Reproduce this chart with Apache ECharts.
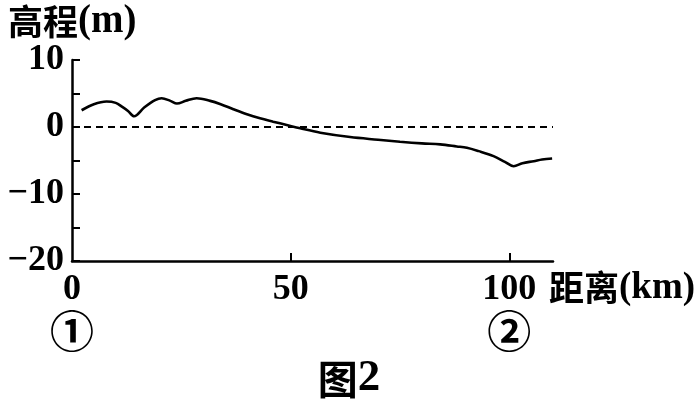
<!DOCTYPE html>
<html>
<head>
<meta charset="utf-8">
<script src="https://cdn.jsdelivr.net/npm/echarts@6/dist/echarts.min.js"></script>
<style>
html,body{margin:0;padding:0;background:#fff;}
#c{width:698px;height:403px;}
</style>
</head>
<body>
<div id="c"></div>
<script>
// distance (km) along the profile
const distance = [2.2,5,7.9,10,11.5,12.8,14.2,16.5,19,20.5,22.5,24,26,28.5,31.6,34,36.9,40,43,46,49.1,52.2,56.8,63.6,70,75,80,84.2,88,90.3,93,96.4,99,101,103,105.6,107.5,109.8];
// elevation (m)
const elevation = [2.5,3.4,3.8,3.6,3.0,2.4,1.6,2.9,4.0,4.3,3.9,3.5,3.9,4.3,3.9,3.4,2.65,1.9,1.3,0.8,0.3,-0.2,-0.85,-1.5,-1.9,-2.2,-2.45,-2.6,-2.9,-3.1,-3.6,-4.35,-5.2,-5.85,-5.4,-5.1,-4.85,-4.7];
const xTickValues = [0,50,100];
const xTickMarks = [50,100];
const xMarkers = {0:'①',100:'②'};
const yLabelValues = [10,0,-10,-20];

const SERIF = 'Liberation Serif';
const CJK = 'Noto Sans CJK SC';

const chart = echarts.init(document.getElementById('c'));
chart.setOption({
  animation:false,
  backgroundColor:'#fff',
  textStyle:{fontFamily:SERIF},
  title:[
    {text:'{a|高程}{b|(m)}', left:3, top:-3,
     textStyle:{fontFamily:SERIF,rich:{a:{fontFamily:CJK,fontWeight:'bold',fontSize:35,color:'#000'},
                      b:{fontFamily:SERIF,fontWeight:'bold',fontSize:39,color:'#000'}}}},
    {text:'{a|图}{b|2}', left:'center', top:351,
     textStyle:{fontFamily:SERIF,rich:{a:{fontFamily:CJK,fontWeight:'bold',fontSize:40,color:'#000'},
                      b:{fontFamily:SERIF,fontWeight:'bold',fontSize:45,color:'#000'}}}}
  ],
  grid:{left:72,right:145,top:60,bottom:142,containLabel:false},
  xAxis:{
    type:'value',min:0,max:110,interval:50,
    name:'{c|距离}{d|(km)}',nameLocation:'end',nameGap:-4,
    nameTextStyle:{fontFamily:SERIF,align:'left',verticalAlign:'middle',padding:[54,0,0,0],
      rich:{c:{fontFamily:CJK,fontWeight:'bold',fontSize:35,color:'#000'},
            d:{fontFamily:SERIF,fontWeight:'bold',fontSize:37,color:'#000'}}},
    axisLine:{show:true,onZero:false,lineStyle:{color:'#000',width:2.5}},
    axisTick:{show:true,inside:true,length:8,customValues:xTickMarks,lineStyle:{color:'#000',width:2}},
    splitLine:{show:false},
    axisLabel:{margin:9,customValues:xTickValues,fontFamily:SERIF,
      formatter:function(v){return xMarkers[v]!==undefined ? '{n|'+v+'}\n{m|'+xMarkers[v]+'}' : '{n|'+v+'}';},
      rich:{n:{fontFamily:SERIF,fontWeight:'bold',fontSize:36,color:'#000',lineHeight:40},
            m:{fontFamily:CJK,fontWeight:'bold',fontSize:44,color:'#000',lineHeight:42}}}
  },
  yAxis:{
    type:'value',min:-20,max:10,interval:5,
    axisLine:{show:true,onZero:false,lineStyle:{color:'#000',width:2.5}},
    axisTick:{show:true,inside:true,length:8,lineStyle:{color:'#000',width:2}},
    splitLine:{show:false},
    axisLabel:{margin:8,customValues:yLabelValues,
      fontFamily:SERIF,fontWeight:'bold',fontSize:36,color:'#000',
      formatter:function(v){return v<0 ? '\u2212'+(-v) : String(v);}}
  },
  series:[{
    type:'line',
    data:distance.map((d,i)=>[d,elevation[i]]),
    smooth:0.35,
    showSymbol:false,
    lineStyle:{color:'#000',width:2.6},
    markLine:{silent:true,symbol:'none',label:{show:false},
      lineStyle:{color:'#000',width:2,type:[7,5]},
      data:[{yAxis:0}]}
  }]
});
</script>
</body>
</html>
